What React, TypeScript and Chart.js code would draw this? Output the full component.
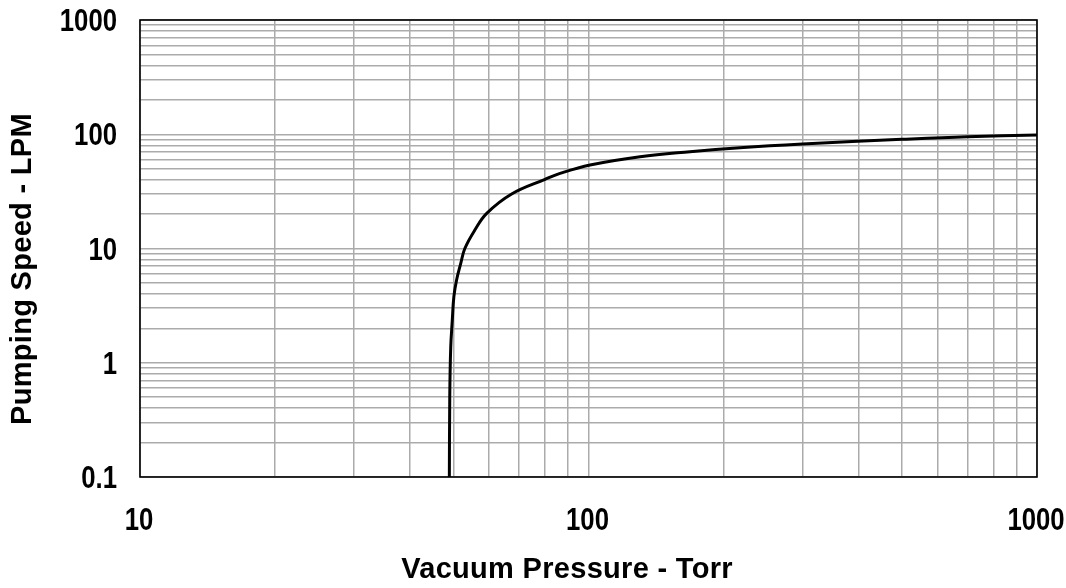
import { useEffect, useRef } from "react";
import { Chart, registerables } from "chart.js";

Chart.register(...registerables);

// Curve (Torr, LPM)
const pressureTorr = [48.95, 49.05, 49.3, 49.7, 50.1, 50.8, 51.9, 53.0, 55.8, 59.3, 67.4, 80.0, 86.4, 100.8, 130.3, 168.4, 217.7, 300, 500, 700, 1000];
const speedLpm = [0.1, 0.5, 1.37, 2.37, 3.79, 5.3, 7.42, 10.0, 14.5, 20.3, 30.0, 40.3, 45.4, 53.8, 63.6, 70.4, 76.3, 82.2, 90.3, 95.2, 98.5];

// Grid lines (log decades) and labelled ticks
const xGridValues = [10, 20, 30, 40, 50, 60, 70, 80, 90, 100, 200, 300, 400, 500, 600, 700, 800, 900, 1000];
const yGridValues = [
  0.1, 0.2, 0.3, 0.4, 0.5, 0.6, 0.7, 0.8, 0.9,
  1, 2, 3, 4, 5, 6, 7, 8, 9,
  10, 20, 30, 40, 50, 60, 70, 80, 90,
  100, 200, 300, 400, 500, 600, 700, 800, 900,
  1000,
];
const xTickLabels = ["10", "100", "1000"];
const yTickLabels = ["0.1", "1", "10", "100", "1000"];

const xTitle = "Vacuum Pressure - Torr";
const yTitle = "Pumping Speed - LPM";

const FONT = "'Liberation Sans', Arial, sans-serif";
const NARROW = 0.83; // horizontal squeeze giving a condensed look to tick labels

export default function App() {
  const ref = useRef<HTMLCanvasElement | null>(null);

  useEffect(() => {
    if (!ref.current) return;
    const noPad = (s: any) => {
      s.paddingTop = 0;
      s.paddingBottom = 0;
      s.paddingLeft = 0;
      s.paddingRight = 0;
    };
    const frame = {
      id: "frameAndText",
      afterDraw(chart: any) {
        const { ctx, chartArea, scales } = chart;
        ctx.save();
        ctx.strokeStyle = "#000";
        ctx.lineWidth = 1.6;
        ctx.strokeRect(chartArea.left, chartArea.top, chartArea.right - chartArea.left, chartArea.bottom - chartArea.top);

        ctx.fillStyle = "#000";
        ctx.font = `bold 31px ${FONT}`;
        ctx.textBaseline = "alphabetic";
        // y tick labels
        ctx.textAlign = "right";
        yTickLabels.forEach((t) => {
          const py = scales.y.getPixelForValue(Number(t));
          ctx.save();
          ctx.translate(117, py + 11);
          ctx.scale(NARROW, 1);
          ctx.fillText(t, 0, 0);
          ctx.restore();
        });
        // x tick labels
        ctx.textAlign = "center";
        xTickLabels.forEach((t) => {
          const px = scales.x.getPixelForValue(Number(t));
          ctx.save();
          ctx.translate(px - 1, 530);
          ctx.scale(NARROW, 1);
          ctx.fillText(t, 0, 0);
          ctx.restore();
        });

        // axis titles
        ctx.font = `bold 29px ${FONT}`;
        (ctx as any).letterSpacing = "0.3px";
        ctx.textAlign = "center";
        ctx.textBaseline = "middle";
        ctx.fillText(xTitle, 567, 570);
        ctx.translate(23, 269);
        ctx.rotate(-Math.PI / 2);
        ctx.fillText(yTitle, 0, 0);
        ctx.restore();
      },
    };

    const chart = new Chart(ref.current, {
      type: "scatter",
      data: {
        datasets: [
          {
            data: pressureTorr.map((p, i) => ({ x: p, y: speedLpm[i] })),
            showLine: true,
            borderColor: "#000",
            borderWidth: 3,
            pointRadius: 0,
            tension: 0.4,
            fill: false,
          },
        ],
      },
      options: {
        animation: false,
        responsive: false,
        devicePixelRatio: 1,
        layout: { padding: { top: 20, right: 29, left: 0, bottom: 0 } },
        plugins: { legend: { display: false }, tooltip: { enabled: false } },
        scales: {
          x: {
            type: "logarithmic",
            min: 10,
            max: 1000,
            afterFit: (s: any) => {
              s.height = 111;
              noPad(s);
            },
            afterBuildTicks: (s: any) => {
              s.ticks = xGridValues.map((v) => ({ value: v }));
            },
            grid: { color: "#ababab", lineWidth: 1.5, drawTicks: false },
            border: { display: false },
            ticks: { autoSkip: false, maxRotation: 0, padding: 0, callback: () => "" },
          },
          y: {
            type: "logarithmic",
            min: 0.1,
            max: 1000,
            afterFit: (s: any) => {
              s.width = 140;
              noPad(s);
            },
            afterBuildTicks: (s: any) => {
              s.ticks = yGridValues.map((v) => ({ value: v }));
            },
            grid: { color: "#ababab", lineWidth: 1.5, drawTicks: false },
            border: { display: false },
            ticks: { autoSkip: false, padding: 0, callback: () => "" },
          },
        },
      },
      plugins: [frame],
    } as any);
    return () => chart.destroy();
  }, []);

  return (
    <div style={{ position: "fixed", left: 0, top: 0, width: 1066, height: 588, background: "#fff" }}>
      <canvas ref={ref} width={1066} height={588} style={{ width: 1066, height: 588, display: "block" }} />
    </div>
  );
}
